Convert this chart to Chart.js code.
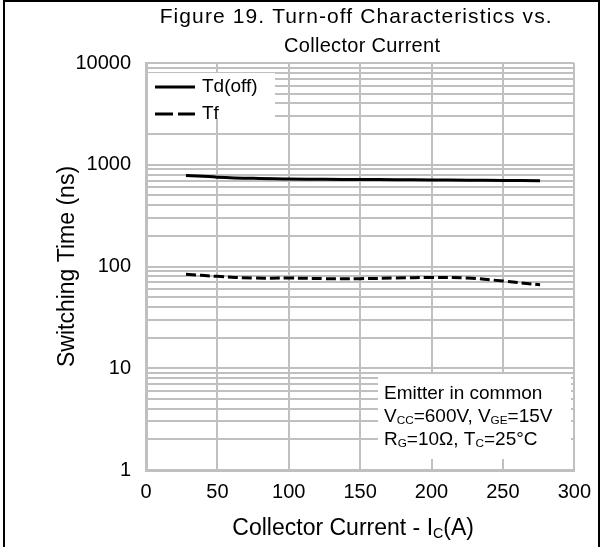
<!DOCTYPE html>
<html>
<head>
<meta charset="utf-8">
<script src="https://cdn.jsdelivr.net/npm/chart.js@4/dist/chart.umd.min.js"></script>
<style>
  html, body { margin: 0; padding: 0; background: #fff; }
  #wrap { position: relative; width: 601px; height: 547px; }
</style>
</head>
<body>
<div id="wrap"><canvas id="turnOffChart" width="601" height="547"></canvas></div>
<script>
const currents = [28, 50, 75, 100, 125, 150, 175, 200, 225, 250, 276];
const tdOff = [785, 755, 735, 725, 720, 716, 713, 710, 706, 702, 697];
const tf = [84, 80, 77, 77, 76, 76, 77, 78, 77, 72, 66];
const xTicks = [0, 50, 100, 150, 200, 250, 300];
const yLabels = [1, 10, 100, 1000, 10000];

const FONT = "'Liberation Sans', Arial, sans-serif";

// minor log gridlines 1..9 per decade
const yTicks = [];
for (let d = 0; d < 4; d++) {
    for (let m = 1; m < 10; m++) yTicks.push(m * Math.pow(10, d));
}
yTicks.push(10000);

function drawRich(ctx, parts, x, y, size) {
    // parts: [text, isSub]
    let cx = x;
    parts.forEach(([t, sub]) => {
        ctx.font = (sub ? size * 0.62 : size) + 'px ' + FONT;
        ctx.fillText(t, cx, sub ? y + size * 0.22 : y);
        cx += ctx.measureText(t).width;
    });
}

function richWidth(ctx, parts, size) {
    let w = 0;
    parts.forEach(([t, sub]) => {
        ctx.font = (sub ? size * 0.62 : size) + 'px ' + FONT;
        w += ctx.measureText(t).width;
    });
    return w;
}

const decorations = {
    id: 'decorations',
    beforeDraw(chart) {
        const ctx = chart.ctx;
        ctx.save();
        ctx.strokeStyle = '#000';
        ctx.lineWidth = 2;
        ctx.beginPath();
        ctx.moveTo(4, 547);
        ctx.lineTo(4, 1);
        ctx.lineTo(599, 1);
        ctx.lineTo(599, 547);
        ctx.stroke();
        ctx.restore();
    },
    beforeDatasetsDraw(chart) {
        const ctx = chart.ctx;
        const a = chart.chartArea;
        ctx.save();
        // legend box
        ctx.fillStyle = '#fff';
        ctx.fillRect(a.left + 2, a.top + 10, 127, 45);
        ctx.strokeStyle = '#000';
        ctx.lineWidth = 3;
        ctx.beginPath();
        ctx.moveTo(a.left + 9, a.top + 24);
        ctx.lineTo(a.left + 49, a.top + 24);
        ctx.stroke();
        ctx.setLineDash([18, 5]);
        ctx.beginPath();
        ctx.moveTo(a.left + 9, a.top + 51);
        ctx.lineTo(a.left + 49, a.top + 51);
        ctx.stroke();
        ctx.setLineDash([]);
        ctx.fillStyle = '#000';
        ctx.font = '19px ' + FONT;
        ctx.textBaseline = 'middle';
        ctx.fillText('Td(off)', a.left + 56, a.top + 24);
        ctx.fillText('Tf', a.left + 56, a.top + 51);

        // conditions box
        ctx.fillStyle = '#fff';
        ctx.fillRect(378, 374, 193, 85);
        ctx.fillStyle = '#000';
        ctx.textBaseline = 'middle';
        drawRich(ctx, [['Emitter in common', false]], 384, 394, 19);
        drawRich(ctx, [['V', false], ['CC', true], ['=600V, V', false], ['GE', true], ['=15V', false]], 384, 417, 19);
        drawRich(ctx, [['R', false], ['G', true], ['=10\u03A9, T', false], ['C', true], ['=25\u00B0C', false]], 384, 440, 19);
        ctx.restore();
    },
    afterDraw(chart) {
        const ctx = chart.ctx;
        const a = chart.chartArea;
        const cx = (a.left + a.right) / 2;
        ctx.save();
        ctx.fillStyle = '#000';
        ctx.textAlign = 'center';
        ctx.textBaseline = 'middle';
        ctx.font = '21px ' + FONT;
        ctx.letterSpacing = '1.1px';
        ctx.fillText('Figure 19. Turn-off Characteristics vs.', cx - 4, 17);
        ctx.letterSpacing = '0.3px';
        ctx.font = '20px ' + FONT;
        ctx.fillText('Collector Current', cx + 2, 46);
        ctx.letterSpacing = '0px';

        // y axis title
        ctx.font = '23px ' + FONT;
        ctx.save();
        ctx.translate(68, (a.top + a.bottom) / 2);
        ctx.rotate(-Math.PI / 2);
        ctx.fillText('Switching Time (ns)', 0, 0);
        ctx.restore();

        // x axis title with subscript
        ctx.textAlign = 'left';
        const parts = [['Collector Current - I', false], ['C', true], ['(A)', false]];
        const w = richWidth(ctx, parts, 23);
        drawRich(ctx, parts, cx - 7 - w / 2, 529, 23);
        ctx.restore();
    }
};

const ctx = document.getElementById('turnOffChart').getContext('2d');

new Chart(ctx, {
    type: 'line',
    data: {
        datasets: [{
            label: 'Td(off)',
            data: currents.map((c, i) => ({ x: c, y: tdOff[i] })),
            borderColor: '#000',
            borderWidth: 3,
            tension: 0.4,
            pointRadius: 0,
            fill: false
        }, {
            label: 'Tf',
            data: currents.map((c, i) => ({ x: c, y: tf[i] })),
            borderColor: '#000',
            borderWidth: 3,
            borderDash: [10, 4],
            tension: 0.4,
            pointRadius: 0,
            fill: false
        }]
    },
    options: {
        responsive: false,
        animation: false,
        layout: { padding: { top: 63, right: 22, left: 0, bottom: 0 } },
        plugins: {
            legend: { display: false },
            tooltip: { enabled: false },
            title: { display: false }
        },
        scales: {
            x: {
                type: 'linear',
                min: 0,
                max: 300,
                afterBuildTicks: (scale) => { scale.ticks = xTicks.map(v => ({ value: v })); },
                afterFit: (scale) => { scale.height = 77; },
                grid: { color: '#c0c0c0', lineWidth: 2, drawTicks: false },
                border: { color: '#c0c0c0', width: 3 },
                ticks: { color: '#000', padding: 10, font: { family: FONT, size: 20 }, maxRotation: 0 }
            },
            y: {
                type: 'logarithmic',
                min: 1,
                max: 10000,
                afterBuildTicks: (scale) => { scale.ticks = yTicks.map(v => ({ value: v })); },
                afterFit: (scale) => { scale.width = 146; },
                grid: { color: '#c0c0c0', lineWidth: 2, drawTicks: false },
                border: { color: '#c0c0c0', width: 3 },
                ticks: {
                    color: '#000',
                    padding: 15,
                    autoSkip: false,
                    font: { family: FONT, size: 20 },
                    callback: (v) => yLabels.includes(v) ? String(v) : ''
                }
            }
        }
    },
    plugins: [decorations]
});
</script>
</body>
</html>
